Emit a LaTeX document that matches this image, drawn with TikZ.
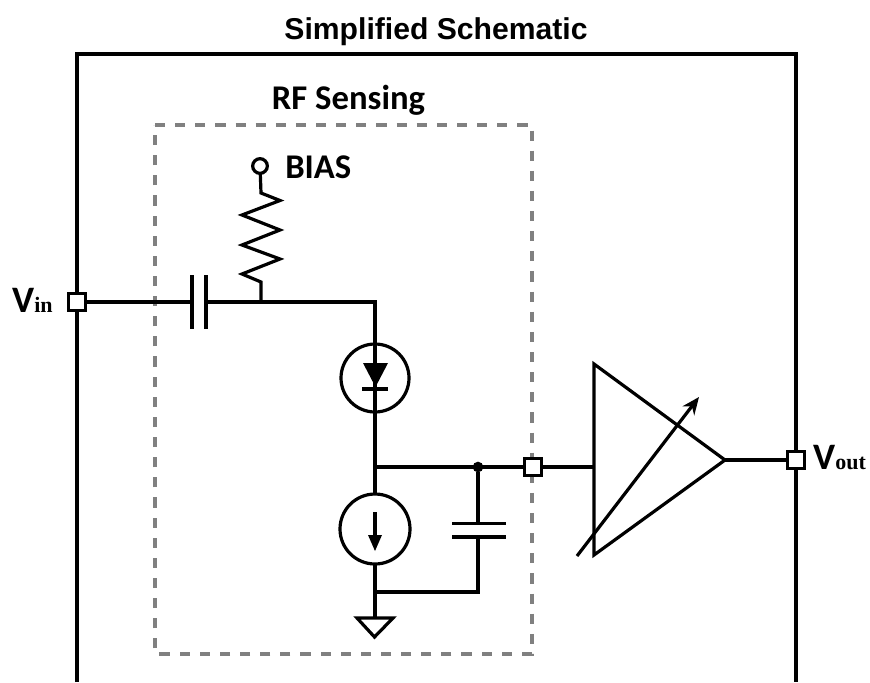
\documentclass[tikz,border=0pt]{standalone}
\usepackage{fontspec}
\setmainfont{Liberation Sans}
\newfontfamily\carl{Carlito}
\newfontfamily\serifb{Liberation Serif}
\usetikzlibrary{arrows.meta}
\definecolor{dashgray}{HTML}{808080}
\tikzset{
  wire/.style={line width=2.4pt,black,line join=miter},
  frameline/.style={line width=2.6pt,black},
  dashbox/.style={line width=2.3pt,dashgray,dash pattern=on 7.6pt off 7.5pt},
  port/.style={draw=black,line width=2.5pt,fill=white,rectangle,minimum size=13pt,inner sep=0pt,outer sep=0pt},
  devcircle/.style={draw=black,line width=2.4pt,circle,inner sep=0pt,outer sep=0pt},
  plate/.style={line width=2.4pt,black},
  titletext/.style={font=\fontsize{22.6}{26}\selectfont\bfseries,inner sep=0pt},
  carltext/.style={font=\carl\fontsize{26}{30}\selectfont\bfseries,inner sep=0pt},
  pintext/.style={inner sep=0pt,anchor=base west}
}
\newcommand{\pinlabel}[2]{{\carl\bfseries\fontsize{28}{32}\selectfont #1}{\serifb\bfseries\fontsize{16.5}{20}\selectfont #2}}
\begin{document}
\begin{tikzpicture}[x=0.75pt,y=-0.75pt]
\useasboundingbox (0,0) rectangle (870,682);
% text
\node[titletext] (title) at (436,32) {Simplified Schematic};
\node[carltext] (rf) at (348.5,100) {RF Sensing};
\node[carltext,anchor=base west] (bias) at (285,178) {BIAS};
\node[pintext] (vin) at (12,312) {\pinlabel{V}{in}};
\node[pintext] (vout) at (813,469) {\pinlabel{V}{out}};
% outer frame
\coordinate (fbl) at (77,682);
\coordinate (ftl) at (77,54);
\coordinate (ftr) at (796,54);
\coordinate (fbr) at (796,682);
\draw[frameline,line join=miter] (fbl) -- (ftl) -- (ftr) -- (fbr);
% dashed sensing box
\coordinate (dtl) at (155,125);
\coordinate (dtr) at (532,125);
\coordinate (dbr) at (532,654);
\coordinate (dbl) at (155,654);
\draw[dashbox] (dtl) -- (dtr) -- (dbr) -- (dbl) -- cycle;
% devices
\node[port] (pin) at (77,302) {};
\node[devcircle,minimum size=51pt] (diode) at (375,378) {};
\node[devcircle,minimum size=52.5pt] (isrc) at (375,529) {};
\node[draw=black,line width=2.4pt,circle,fill=white,minimum size=11pt,inner sep=0pt,outer sep=0pt] (biaspin) at (260,166) {};
\coordinate (capAl) at (192,302);
\coordinate (capAr) at (206,302);
\coordinate (rtop) at (261,193);
\coordinate (rbot) at (261,282);
\coordinate (tee) at (261,302);
\coordinate (corner) at (375,302);
\coordinate (mid) at (375,467);
\coordinate (gjoin) at (375,592);
\coordinate (gtop) at (375,618);
\coordinate (gjoinr) at (478,592);
\node[circle,fill=black,minimum size=8pt,inner sep=0pt,outer sep=0pt] (dot) at (478,467) {};
\coordinate (capBt) at (478,523.5);
\coordinate (capBb) at (478,537);
\node[port] (pmid) at (533,467) {};
\coordinate (ampin) at (594,467);
\coordinate (ampt) at (594,364);
\coordinate (ampb) at (594,555);
\coordinate (ampo) at (725,460);
\node[port] (pout) at (796,460) {};
\coordinate (gainS) at (577,556);
\coordinate (gainE) at (699,397);
% wires
\draw[wire] (pin) -- (capAl);
\draw[wire] (capAr) -- (corner) -- (diode.north);
\draw[wire] (biaspin) -- (rtop) -- (280,200.5) -- (242,215) -- (280,230) -- (242,245) -- (280,259) -- (242,274) -- (rbot) -- (tee);
\draw[wire] (375,344) -- (375,412);
\draw[wire] (diode.south) -- (isrc.north);
\draw[wire] (mid) -- (pmid);
\draw[wire] (dot) -- (capBt);
\draw[wire] (capBb) -- (gjoinr) -- (gjoin);
\draw[wire] (isrc.south) -- (gtop);
\draw[wire] (pmid) -- (ampin);
\draw[wire] (ampo) -- (pout);
% plates
\draw[plate] (192,275) -- (192,329);
\draw[plate] (206,275) -- (206,329);
\draw[plate] (452,523.5) -- (506,523.5);
\draw[plate] (452,537) -- (506,537);
% diode symbol
\fill[black] (363,363) -- (388,363) -- (375.5,387) -- cycle;
\draw[line width=3.4pt,black] (362,389) -- (388,389);
% current arrow
\draw[wire] (375,512) -- (375,538);
\fill[black] (368,535) -- (382,535) -- (375,551) -- cycle;
% ground
\draw[wire,line join=miter] (gtop) ++(-18,0) -- ++(36,0) -- (374.5,637) -- cycle;
% amplifier
\draw[wire,line join=miter] (ampt) -- (ampo) -- (ampb) -- cycle;
\draw[wire,-{Stealth[length=13pt,width=11pt]}] (gainS) -- (gainE);
% ports on top again
\node[port] at (pin) {};
\node[port] at (pmid) {};
\node[port] at (pout) {};
\end{tikzpicture}
\end{document}
